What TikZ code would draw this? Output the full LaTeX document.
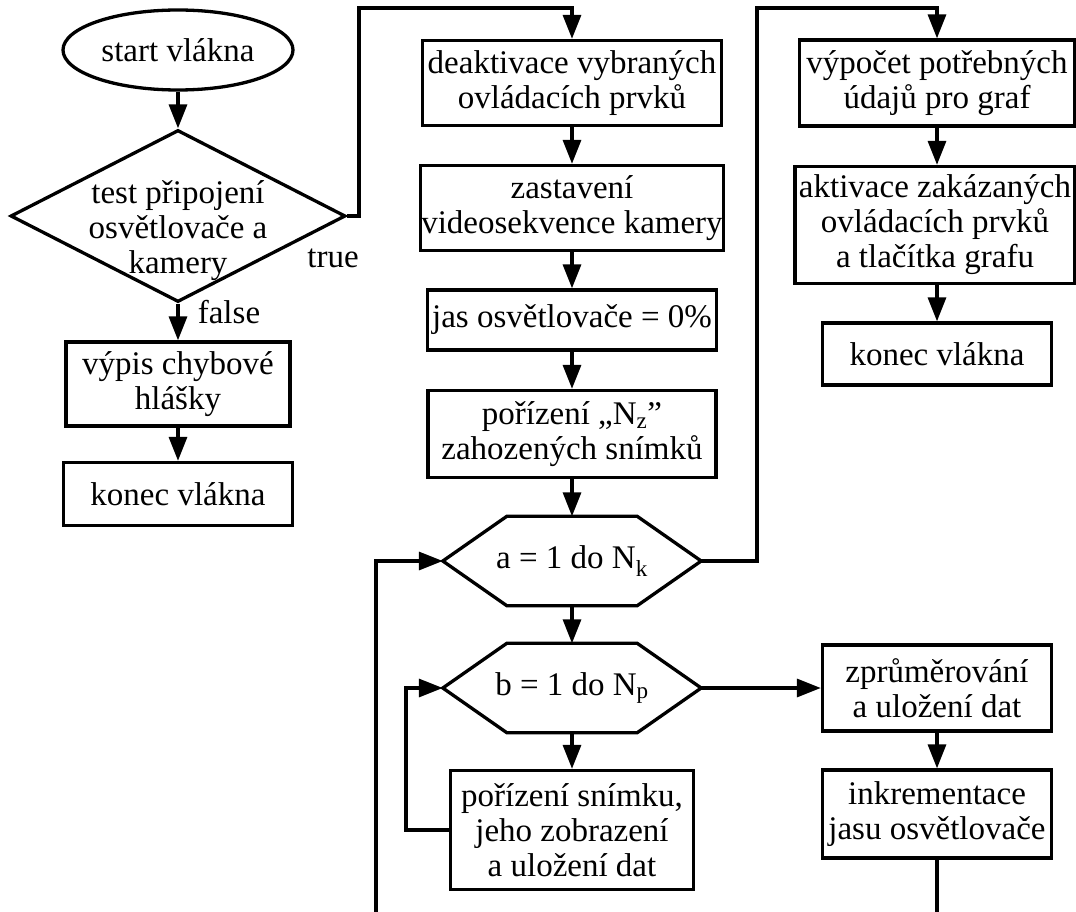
\documentclass[tikz,border=0pt]{standalone}
\usepackage{fontspec}
\setmainfont{Liberation Serif}
\usetikzlibrary{shapes.geometric,arrows.meta}

\tikzset{
  blok/.style={draw, rectangle, line width=3.3pt, align=center, inner xsep=1pt, inner ysep=2pt,
    font=\fontsize{33}{35}\selectfont},
  cyklus/.style={rectangle, align=center, inner sep=0pt, minimum width=258pt,
    minimum height=89pt, font=\fontsize{33}{35}\selectfont},
  popis/.style={inner sep=0pt, font=\fontsize{33}{35}\selectfont},
  sipka/.style={line width=3.3pt, -{Triangle[length=24pt,width=18pt]}},
  cara/.style={line width=3.3pt},
}

\begin{document}
\begin{tikzpicture}[x=1pt,y=-1pt]
  \useasboundingbox (0,0) rectangle (1076,912);
  % levy sloupec
  \node[blok, ellipse, minimum width=230pt, minimum height=80pt, inner sep=0pt] (start) at (178,50) {start vlákna};
  \node[blok, diamond, aspect=1.95, minimum width=335pt, minimum height=172pt, inner sep=-22pt] (test) at (178,216)
    {\rule{0pt}{52pt}test připojení\\osvětlovače a\\kamery};
  \node[blok, minimum width=224pt, minimum height=84pt] (vypis) at (178,384) {výpis chybové\\hlášky};
  \node[blok, minimum width=229pt, minimum height=63pt] (konec1) at (178,494) {konec vlákna};
  \node[popis] (true) at (333,258) {true};
  \node[popis] (false) at (229,312) {false};
  % prostredni sloupec
  \node[blok, minimum width=299pt, minimum height=85pt] (deakt) at (572,83) {deaktivace vybraných\\ovládacích prvků};
  \node[blok, minimum width=299pt, minimum height=85pt] (zast) at (572,208) {zastavení\\videosekvence kamery};
  \node[blok, minimum width=289pt, minimum height=60pt] (jas) at (572,320) {jas osvětlovače = 0\%};
  \node[blok, minimum width=288pt, minimum height=87pt] (nz) at (572,434) {pořízení „N\textsubscript{z}”\\zahozených snímků};
  \node[cyklus] (hexa) at (572,561) {a = 1 do N\textsubscript{k}};
  \node[cyklus] (hexb) at (572,688) {b = 1 do N\textsubscript{p}};
  \node[blok, minimum width=243pt, minimum height=119pt] (snimek) at (572,830) {pořízení snímku,\\jeho zobrazení\\a uložení dat};
  % pravy sloupec
  \node[blok, minimum width=275pt, minimum height=86pt] (vypocet) at (937,83) {výpočet potřebných\\údajů pro graf};
  \node[blok, minimum width=280pt, minimum height=117pt] (aktivace) at (935,225) {aktivace zakázaných\\ovládacích prvků\\a tlačítka grafu};
  \node[blok, minimum width=229pt, minimum height=62pt] (konec2) at (937,354) {konec vlákna};
  \node[blok, minimum width=229pt, minimum height=86pt] (prumer) at (937,688) {zprůměrování\\a uložení dat};
  \node[blok, minimum width=229pt, minimum height=88pt] (inkrem) at (937,814) {inkrementace\\jasu osvětlovače};

  \foreach \h in {hexa,hexb}
    \draw[cara] (\h.west) -- ([xshift=64pt]\h.north west) -- ([xshift=-64pt]\h.north east)
      -- (\h.east) -- ([xshift=-64pt]\h.south east) -- ([xshift=64pt]\h.south west) -- cycle;

  \coordinate (roh1) at (359,8);
  \coordinate (roh2) at (757,8);
  \coordinate (dole1) at (376,912);

  \draw[sipka] (start) -- (test);
  \draw[sipka] (test) -- (vypis);
  \draw[sipka] (vypis) -- (konec1);
  \draw[sipka] (test.east) -| (roh1) -| (deakt.north);
  \draw[sipka] (deakt) -- (zast);
  \draw[sipka] (zast) -- (jas);
  \draw[sipka] (jas) -- (nz);
  \draw[sipka] (nz) -- (hexa);
  \draw[sipka] (hexa) -- (hexb);
  \draw[sipka] (hexb) -- (snimek);
  \draw[sipka] (snimek.west) -- ++(-43,0) |- (hexb.west);
  \draw[sipka] (dole1) |- (hexa.west);
  \draw[sipka] (hexa.east) -| (roh2) -| (vypocet.north);
  \draw[sipka] (vypocet.south) -- (vypocet.south |- aktivace.north);
  \draw[sipka] (aktivace.south -| konec2.north) -- (konec2.north);
  \draw[sipka] (hexb.east) -- (prumer.west);
  \draw[sipka] (prumer) -- (inkrem);
  \draw[cara] (inkrem.south) -- (inkrem.south |- dole1);
\end{tikzpicture}
\end{document}
